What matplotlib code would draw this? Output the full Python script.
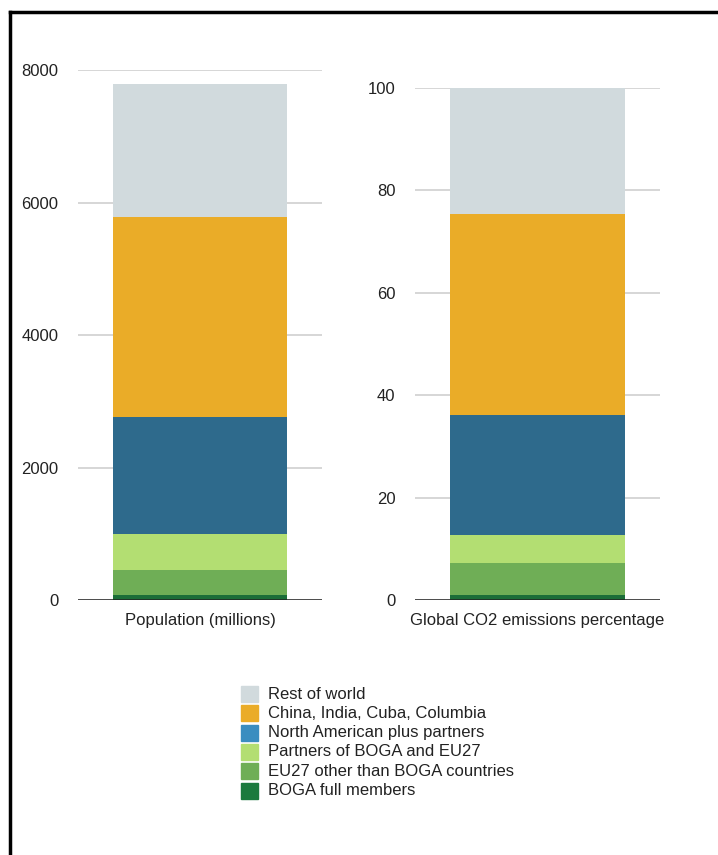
import matplotlib.pyplot as plt
from matplotlib.lines import Line2D
from matplotlib.patches import Rectangle

plt.rcParams['font.family'] = ['Liberation Sans', 'DejaVu Sans']

# stacked segments, bottom to top
groups = ['BOGA full members', 'EU27 other than BOGA countries',
          'Partners of BOGA and EU27', 'North American plus partners',
          'China, India, Cuba, Columbia', 'Rest of world']
population = [90, 363, 543, 1766, 3019, 2008]
co2_share = [1.0, 6.3, 5.5, 23.3, 39.3, 24.6]

bar_colors = ['#1b6e38', '#6fae56', '#b3de72', '#2e6a8c', '#eaac28', '#d1dadd']
swatch_colors = ['#1c7a3e', '#6fae56', '#b3de72', '#3a8dc0', '#eaac28', '#d1dadd']

fig = plt.figure(figsize=(7.18, 8.55), dpi=100)


def stacked(ax, values, ymax, step, label):
    bottom = 0
    for v, c in zip(values, bar_colors):
        ax.bar(0, v, width=1.0, bottom=bottom, color=c, zorder=2)
        bottom += v
    ax.set_xlim(-0.7, 0.7)
    ax.set_ylim(0, ymax)
    ax.set_yticks(range(0, ymax + 1, step))
    ax.set_xticks([0])
    ax.set_xticklabels([label], fontsize=12)
    ax.yaxis.grid(True, color='#d0d0d0', linewidth=1.2, zorder=0)
    ax.axhline(0, color='#222222', linewidth=1.8, zorder=3)
    for s in ax.spines.values():
        s.set_visible(False)
    ax.tick_params(axis='both', length=0, labelsize=12, colors='#222222')
    ax.tick_params(axis='y', pad=14)
    ax.tick_params(axis='x', pad=9)


ax1 = fig.add_axes([0.1086, 0.2977, 0.3398, 0.6199])
stacked(ax1, population, 8000, 2000, 'Population (millions)')

ax2 = fig.add_axes([0.578, 0.2982, 0.341, 0.5988])
stacked(ax2, co2_share, 100, 20, 'Global CO2 emissions percentage')

# legend, top entry first
x_sw, x_txt = 241 / 718, 268 / 718
for i, (name, c) in enumerate(zip(groups[::-1], swatch_colors[::-1])):
    yc = 1 - (694 + i * 19.3) / 855
    fig.patches.append(Rectangle((x_sw, yc - 8 / 855), 17 / 718, 16 / 855,
                                 transform=fig.transFigure, color=c))
    fig.text(x_txt, yc, name, fontsize=12, va='center', ha='left', color='#222222')

# outer frame (left and top edges)
fig.add_artist(Line2D([10 / 718, 10 / 718], [0, 1 - 12 / 855],
                      transform=fig.transFigure, color='black', linewidth=2.5))
fig.add_artist(Line2D([10 / 718, 1], [1 - 12 / 855, 1 - 12 / 855],
                      transform=fig.transFigure, color='black', linewidth=2.5))

fig.savefig('out.png', dpi=100)
